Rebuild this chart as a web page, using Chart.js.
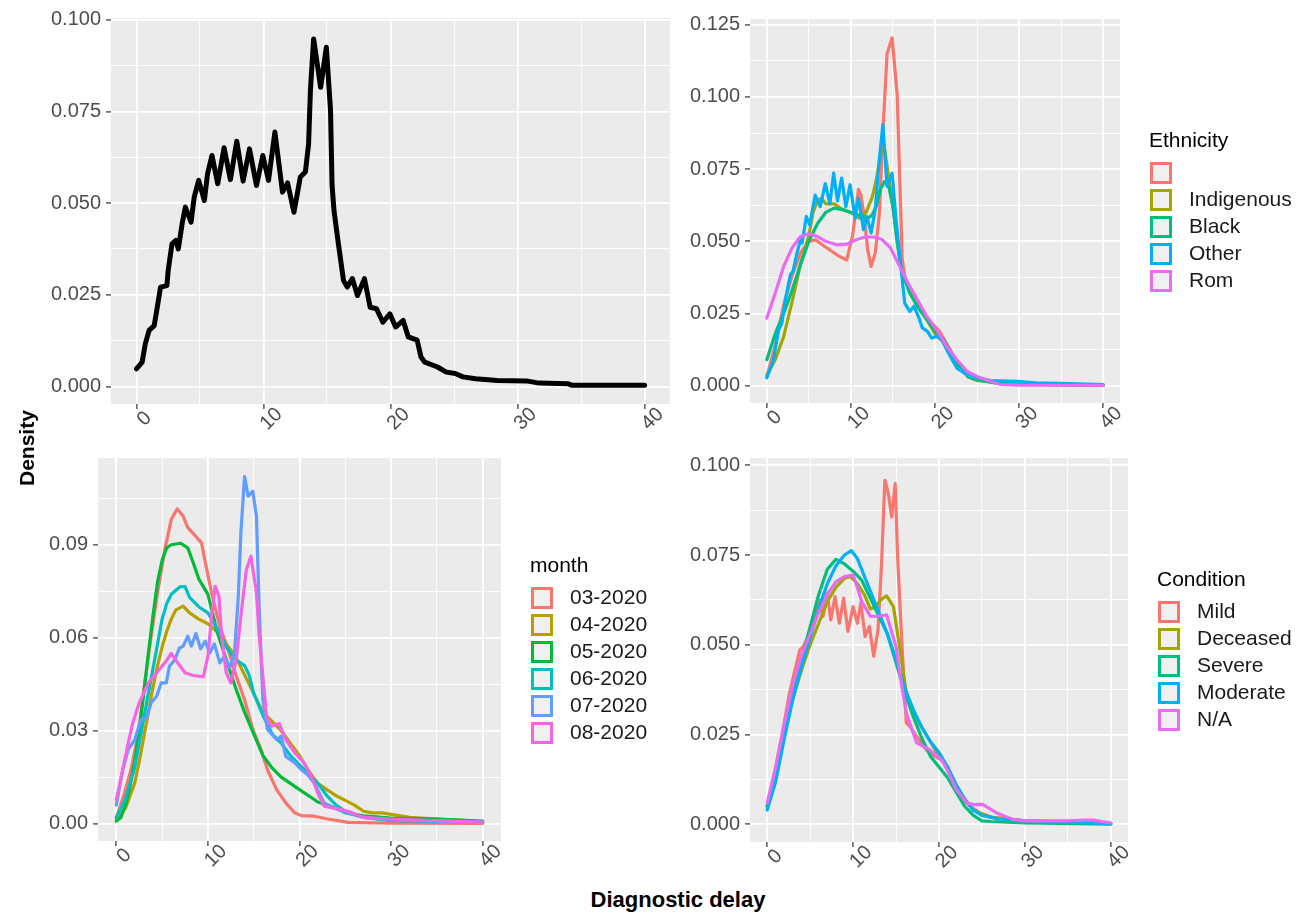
<!DOCTYPE html>
<html>
<head>
<meta charset="utf-8">
<script src="https://cdn.jsdelivr.net/npm/chart.js@4.4.1/dist/chart.umd.min.js"></script>
<style>
  body { margin: 0; background: #fff; width: 1296px; height: 916px; position: relative; overflow: hidden;
         font-family: 'Liberation Sans', Arial, sans-serif; }
  .panel { position: absolute; }
  .axis-title { position: absolute; font-weight: bold; color: #000; white-space: nowrap; transform: translate(-50%, -50%); }
  #yTitle { left: 27px; top: 448px; font-size: 21px; transform: translate(-50%, -50%) rotate(-90deg); }
  #xTitle { left: 678px; top: 900px; font-size: 22px; }
</style>
</head>
<body>
<div class="panel" style="left:31px;top:-2px;width:649px;height:446px"><canvas id="cAll"></canvas></div>
<div class="panel" style="left:670px;top:-1px;width:626px;height:444px"><canvas id="cEthnicity"></canvas></div>
<div class="panel" style="left:18px;top:438px;width:633px;height:443px"><canvas id="cMonth"></canvas></div>
<div class="panel" style="left:670px;top:438px;width:626px;height:444px"><canvas id="cCondition"></canvas></div>
<div class="axis-title" id="yTitle">Density</div>
<div class="axis-title" id="xTitle">Diagnostic delay</div>

<script>
// ---- data (x = diagnostic delay in days, y = density) ----
const xBreaks = [0, 10, 20, 30, 40];
const xLabels = ['0', '10', '20', '30', '40'];

// top-left: all cases
const allDelay = [[0,0.0048],[0.45,0.0066],[0.7,0.0116],[1.0,0.0153],[1.4,0.0166],[1.6,0.0207],[1.9,0.0271],[2.4,0.0275],[2.5,0.0316],[2.8,0.0389],[3.1,0.0398],[3.3,0.0375],[3.6,0.0444],[3.85,0.0489],[4.3,0.0448],[4.55,0.0516],[4.9,0.0562],[5.35,0.0507],[5.6,0.058],[5.95,0.063],[6.4,0.0553],[6.9,0.0651],[7.4,0.0564],[7.9,0.0669],[8.4,0.056],[8.9,0.0648],[9.45,0.0548],[9.95,0.063],[10.4,0.0562],[10.9,0.0694],[11.5,0.053],[11.9,0.0555],[12.4,0.0475],[12.9,0.0571],[13.3,0.0585],[13.55,0.066],[13.7,0.081],[13.95,0.0948],[14.5,0.0816],[14.95,0.0925],[15.28,0.0753],[15.4,0.055],[15.55,0.048],[15.9,0.0389],[16.3,0.0289],[16.6,0.0271],[17.0,0.0294],[17.4,0.0248],[17.95,0.0294],[18.4,0.0216],[18.9,0.0212],[19.4,0.0175],[19.95,0.0198],[20.4,0.0162],[21.0,0.018],[21.4,0.0135],[22.1,0.0126],[22.4,0.008],[22.7,0.0066],[23.7,0.0053],[24.4,0.0039],[25.1,0.0035],[25.7,0.0026],[26.7,0.0021],[28.4,0.0016],[30.7,0.0015],[31.7,0.0009],[34,0.0007],[34.3,0.0003],[40,0.0003]];
const allYBreaks = [0, 0.025, 0.05, 0.075, 0.1];
const allYLabels = ['0.000', '0.025', '0.050', '0.075', '0.100'];

// top-right: ethnicity
const ethnicityNames = ['', 'Indigenous', 'Black', 'Other', 'Rom'];
const ethBlank = [[0,0.003],[1,0.014],[2,0.028],[3,0.038],[4,0.046],[5,0.050],[5.8,0.0505],[6.5,0.049],[7.5,0.047],[8.5,0.045],[9.5,0.0435],[10.2,0.052],[10.9,0.068],[11.2,0.066],[11.6,0.058],[12,0.047],[12.4,0.0413],[12.9,0.046],[13.4,0.06],[13.7,0.082],[14.3,0.115],[14.9,0.1205],[15.5,0.101],[15.8,0.0725],[16.1,0.044],[16.5,0.036],[17.5,0.031],[18.5,0.026],[19.5,0.022],[20.5,0.019],[21.5,0.014],[22.5,0.009],[23.5,0.005],[24.5,0.003],[26,0.002],[28,0.0012],[30,0.0008],[35,0.0003],[40,0.0002]];
const ethIndigenous = [[0,0.0035],[1,0.009],[2,0.017],[3,0.029],[4,0.042],[5,0.052],[5.5,0.060],[6,0.064],[6.5,0.065],[7,0.063],[8,0.063],[9,0.061],[10,0.060],[11,0.058],[11.8,0.060],[12.5,0.065],[13,0.071],[13.6,0.081],[14,0.082],[14.5,0.072],[15,0.062],[15.5,0.050],[16,0.040],[17,0.033],[18,0.028],[19,0.023],[20,0.018],[21,0.015],[22,0.011],[23,0.006],[24,0.003],[25,0.0018],[27,0.0012],[30,0.0006],[40,0.0001]];
const ethBlack = [[0,0.009],[1,0.018],[2,0.025],[3,0.033],[4,0.042],[5,0.050],[6,0.056],[7,0.060],[8,0.0615],[9,0.061],[10,0.060],[11,0.059],[12,0.058],[12.5,0.059],[13,0.062],[13.5,0.068],[14,0.0707],[14.5,0.069],[15,0.062],[15.5,0.050],[16,0.040],[17,0.032],[18,0.027],[19,0.023],[20,0.019],[21,0.016],[22,0.011],[23,0.006],[24,0.003],[25,0.002],[27,0.001],[30,0.0006],[40,0.0001]];
const ethOther = [[0,0.0027],[0.8,0.009],[1.4,0.0194],[1.8,0.0217],[2.2,0.0298],[2.8,0.0384],[3.1,0.0396],[3.6,0.046],[4.0,0.0505],[4.2,0.0494],[4.7,0.0586],[5.1,0.0557],[5.75,0.066],[6.35,0.062],[6.95,0.070],[7.5,0.063],[7.95,0.0736],[8.4,0.064],[8.9,0.0719],[9.4,0.062],[9.9,0.0696],[10.5,0.058],[10.9,0.065],[11.5,0.054],[11.9,0.0586],[12.4,0.0529],[12.9,0.061],[13.3,0.076],[13.8,0.0904],[14.3,0.069],[14.9,0.0736],[15.4,0.0563],[15.9,0.0425],[16.4,0.0286],[17.0,0.0257],[17.5,0.0275],[18.1,0.0234],[18.5,0.020],[19.1,0.0188],[19.6,0.0165],[20.2,0.0171],[20.8,0.016],[21.6,0.0113],[22.6,0.0061],[23.8,0.0038],[25,0.0027],[26.6,0.0018],[29.8,0.0015],[32,0.001],[35,0.0008],[40,0.0004]];
const ethRom = [[0,0.0234],[1,0.032],[2,0.0413],[3,0.0477],[4,0.0517],[5,0.0526],[6,0.0517],[7,0.050],[8.3,0.0488],[9.5,0.049],[10.7,0.0506],[11.7,0.0515],[12.7,0.0515],[13.7,0.0506],[14.7,0.0477],[15.7,0.042],[16.7,0.036],[17.9,0.0298],[19.0,0.024],[20.2,0.0194],[21.4,0.0136],[22.6,0.009],[23.8,0.005],[25,0.0032],[26.2,0.002],[27.8,0.0004],[30,0.0002],[40,0.0001]];
const ethYBreaks = [0, 0.025, 0.05, 0.075, 0.1, 0.125];
const ethYLabels = ['0.000', '0.025', '0.050', '0.075', '0.100', '0.125'];

// bottom-left: month
const monthNames = ['03-2020', '04-2020', '05-2020', '06-2020', '07-2020', '08-2020'];
const month03 = [[0,0.0018],[0.9,0.0099],[1.6,0.0174],[2.4,0.0293],[3.1,0.0454],[3.8,0.0605],[4.5,0.0745],[5.3,0.0885],[6.0,0.0982],[6.65,0.1016],[7.3,0.0992],[7.8,0.0955],[8.5,0.0933],[9.3,0.0906],[9.8,0.0831],[10.4,0.0745],[11.3,0.0637],[12.2,0.0562],[13.1,0.0476],[14.0,0.040],[14.9,0.0304],[15.8,0.0239],[16.5,0.0174],[17.5,0.011],[18.5,0.0067],[19.5,0.0034],[20.2,0.0026],[21.6,0.0024],[23.1,0.0015],[25.3,0.0004],[30,0.0002],[40,0.0001]];
const month04 = [[0,0.001],[1,0.005],[2,0.013],[2.5,0.02],[3,0.028],[3.5,0.036],[4,0.044],[4.5,0.051],[5,0.057],[5.5,0.062],[6,0.066],[6.5,0.069],[7.3,0.0702],[8,0.068],[9,0.066],[10,0.0645],[11,0.062],[12,0.058],[13,0.054],[14,0.048],[15,0.042],[16,0.036],[17,0.033],[18,0.030],[19,0.026],[20,0.022],[21,0.017],[22,0.013],[23,0.011],[24,0.009],[25,0.0075],[26,0.006],[27,0.004],[28,0.0035],[29,0.0035],[30,0.003],[32,0.002],[35,0.0015],[38,0.001],[40,0.0005]];
const month05 = [[0,0.0008],[0.5,0.002],[1,0.006],[1.5,0.012],[2,0.02],[2.5,0.03],[3,0.042],[3.5,0.055],[4,0.067],[4.5,0.078],[5,0.085],[5.5,0.089],[6,0.090],[7,0.0905],[7.8,0.089],[8.3,0.085],[9,0.079],[10,0.074],[10.5,0.068],[11,0.062],[12,0.053],[13,0.044],[14,0.036],[15,0.029],[16,0.022],[17,0.018],[18,0.015],[19,0.013],[20,0.011],[21,0.009],[22,0.007],[23,0.006],[24,0.005],[25,0.0035],[27,0.0025],[30,0.0018],[35,0.0015],[40,0.0008]];
const month06 = [[0,0.002],[1,0.008],[2,0.018],[3,0.034],[4,0.050],[4.5,0.058],[5,0.066],[5.5,0.071],[6,0.074],[7,0.0765],[7.5,0.0765],[8,0.073],[9,0.070],[10,0.068],[11,0.063],[12,0.057],[13,0.053],[13.5,0.052],[14,0.051],[14.5,0.048],[15,0.042],[16,0.035],[17,0.029],[18,0.026],[19,0.022],[20,0.019],[21,0.016],[22,0.013],[23,0.009],[24,0.006],[25,0.004],[27,0.002],[30,0.001],[40,0.0005]];
const month07 = [[0,0.006],[0.7,0.0174],[1.3,0.024],[2.0,0.027],[2.7,0.0336],[3.3,0.034],[3.8,0.039],[4.4,0.0411],[4.9,0.0454],[5.45,0.0454],[5.8,0.0508],[6.4,0.053],[6.9,0.0567],[7.3,0.0573],[7.8,0.0605],[8.2,0.0573],[8.7,0.0614],[9.2,0.0564],[9.7,0.0589],[10.2,0.0551],[10.7,0.058],[11.3,0.0519],[11.8,0.054],[12.4,0.0503],[12.9,0.0551],[13.3,0.0723],[13.6,0.0939],[14.0,0.112],[14.4,0.1057],[14.9,0.1073],[15.3,0.0992],[15.6,0.0691],[16.0,0.040],[16.5,0.0304],[17.5,0.0271],[18.0,0.0282],[18.5,0.0217],[19.5,0.0196],[20.2,0.0174],[20.9,0.0158],[21.6,0.0131],[22.7,0.0067],[23.8,0.005],[25.3,0.0034],[27,0.002],[30,0.0012],[35,0.0008],[40,0.0005]];
const month08 = [[0,0.0078],[0.7,0.0174],[1.3,0.026],[1.8,0.0325],[2.5,0.039],[3.5,0.0454],[4.4,0.0487],[5.3,0.0519],[6.0,0.0549],[6.7,0.0519],[7.5,0.0487],[8.4,0.0478],[9.5,0.0474],[10.0,0.054],[10.4,0.067],[10.8,0.0766],[11.2,0.0734],[11.5,0.0605],[12.0,0.0487],[12.5,0.0454],[13.1,0.053],[13.6,0.067],[14.2,0.082],[14.7,0.0863],[15.3,0.0745],[15.6,0.0605],[16.0,0.0476],[16.4,0.0347],[16.9,0.0314],[17.8,0.0323],[18.5,0.0271],[19.5,0.0228],[20.5,0.0196],[21.3,0.0153],[22.0,0.0099],[22.7,0.0056],[23.8,0.005],[25.3,0.004],[27,0.002],[30,0.0015],[35,0.001],[40,0.0004]];
const monthYBreaks = [0, 0.03, 0.06, 0.09];
const monthYLabels = ['0.00', '0.03', '0.06', '0.09'];

// bottom-right: condition
const conditionNames = ['Mild', 'Deceased', 'Severe', 'Moderate', 'N/A'];
const condMild = [[0,0.0051],[0.7,0.0125],[1.7,0.0245],[2.6,0.0366],[3.8,0.0486],[4.2,0.0495],[4.8,0.0523],[5.5,0.0579],[6.1,0.0625],[6.5,0.0579],[7.0,0.0644],[7.4,0.0569],[7.9,0.0634],[8.4,0.056],[8.9,0.063],[9.4,0.0537],[10.0,0.0606],[10.5,0.056],[10.9,0.0616],[11.4,0.0523],[11.9,0.0551],[12.4,0.0468],[12.9,0.0542],[13.3,0.0718],[13.7,0.0958],[14.1,0.0921],[14.5,0.0856],[14.9,0.0949],[15.2,0.0736],[15.7,0.0495],[16.2,0.0282],[16.6,0.0273],[17.4,0.0245],[18.5,0.0208],[19.5,0.019],[20.5,0.0176],[21.2,0.0144],[22.4,0.0088],[23.6,0.0051],[24.7,0.0032],[26.3,0.0019],[30,0.001],[35,0.0007],[38,0.0005],[40,0.0002]];
const condDeceased = [[0,0.005],[1,0.013],[2,0.025],[3,0.035],[4,0.043],[5,0.050],[6,0.056],[7,0.062],[8,0.066],[9,0.0685],[9.7,0.069],[10.5,0.067],[11.3,0.064],[12,0.060],[12.6,0.0605],[13.2,0.0625],[13.9,0.0636],[14.7,0.0606],[15.4,0.0495],[16.2,0.0366],[17,0.031],[18,0.027],[19,0.023],[20,0.019],[21,0.016],[22,0.011],[23,0.007],[24,0.004],[25,0.003],[26,0.002],[30,0.001],[40,0.0002]];
const condSevere = [[0,0.005],[1,0.014],[2,0.026],[3,0.037],[4,0.046],[5,0.055],[6,0.064],[7,0.071],[8,0.0738],[9,0.0725],[10,0.0705],[11,0.068],[12,0.063],[13,0.058],[14,0.053],[15,0.045],[16,0.037],[17,0.030],[18,0.024],[19,0.019],[20,0.016],[21,0.013],[22,0.009],[23,0.005],[24,0.0025],[25,0.001],[26,0.0008],[30,0.0004],[40,0.0001]];
const condModerate = [[0,0.004],[1,0.012],[2,0.024],[3,0.035],[4,0.044],[5,0.052],[6,0.060],[7,0.067],[8,0.072],[9,0.075],[9.8,0.0762],[10.5,0.074],[11,0.071],[12,0.065],[13,0.059],[14,0.053],[15,0.046],[16,0.038],[17,0.032],[18,0.027],[19,0.023],[20,0.020],[21,0.016],[22,0.011],[23,0.007],[24,0.004],[25,0.0025],[27,0.0015],[30,0.001],[40,0.0002]];
const condNA = [[0,0.006],[1,0.016],[2,0.028],[3,0.039],[4,0.047],[5,0.053],[6,0.059],[7,0.064],[8,0.0675],[9,0.069],[10,0.0694],[10.5,0.066],[11,0.062],[12,0.058],[12.7,0.0579],[13.9,0.0583],[15,0.0495],[15.5,0.041],[16.2,0.031],[17.4,0.0227],[18.9,0.0208],[20.3,0.018],[21,0.015],[22,0.0097],[23.2,0.006],[24,0.0055],[25.1,0.0056],[26.7,0.0032],[28.6,0.0014],[30,0.001],[35,0.001],[37,0.0012],[38,0.0012],[40,0.0004]];
const condYBreaks = [0, 0.025, 0.05, 0.075, 0.1];
const condYLabels = ['0.000', '0.025', '0.050', '0.075', '0.100'];

// ---- styling ----
Chart.defaults.font.family = "'Liberation Sans', Arial, sans-serif";
Chart.defaults.color = '#4D4D4D';
const hue5 = ['#F8766D', '#A3A500', '#00BF7D', '#00B0F6', '#E76BF3'];
const hue6 = ['#F8766D', '#B79F00', '#00BA38', '#00BFC4', '#619CFF', '#F564E3'];

const near = (a, b) => Math.abs(a - b) < 1e-9;

// grey panel background (ggplot theme_gray)
const panelBg = {
  id: 'panelBg',
  beforeDraw(chart) {
    const { ctx, chartArea: a } = chart;
    ctx.save();
    ctx.fillStyle = '#EBEBEB';
    ctx.fillRect(a.left, a.top, a.right - a.left, a.bottom - a.top);
    ctx.restore();
  }
};

// 45 degree x labels centred under each break, like ggplot's angle = 45
const slantedX = {
  id: 'slantedX',
  afterDraw(chart) {
    const { ctx, chartArea, scales: { x } } = chart;
    ctx.save();
    ctx.font = "20px 'Liberation Sans', Arial, sans-serif";
    ctx.fillStyle = '#4D4D4D';
    ctx.textAlign = 'center';
    ctx.textBaseline = 'middle';
    xBreaks.forEach((v, i) => {
      ctx.save();
      ctx.translate(x.getPixelForValue(v) + 8, chartArea.bottom + 15);
      ctx.rotate(-Math.PI / 4);
      ctx.fillText(xLabels[i], 0, 0);
      ctx.restore();
    });
    ctx.restore();
  }
};

// legend with grey key boxes and coloured outlines
const ggLegend = {
  id: 'ggLegend',
  afterDraw(chart, args, opts) {
    if (!opts.title) return;
    const { ctx, chartArea } = chart;
    const sets = chart.data.datasets;
    const pitch = 27, box = 22;
    const midY = (chartArea.top + chartArea.bottom) / 2;
    const titleY = midY - ((sets.length - 1) * pitch + 32) / 2;
    const x0 = chartArea.right + 30;
    ctx.save();
    ctx.font = "21px 'Liberation Sans', Arial, sans-serif";
    ctx.textBaseline = 'middle';
    ctx.fillStyle = '#000';
    ctx.fillText(opts.title, x0 - 1, titleY);
    sets.forEach((ds, i) => {
      const cy = titleY + 32 + i * pitch;
      ctx.fillStyle = '#F0F0F0';
      ctx.fillRect(x0, cy - box / 2, box, box);
      ctx.strokeStyle = ds.borderColor;
      ctx.lineWidth = 3;
      ctx.strokeRect(x0 + 1.5, cy - box / 2 + 1.5, box - 3, box - 3);
      ctx.fillStyle = '#1A1A1A';
      ctx.fillText(ds.label, x0 + 39, cy);
    });
    ctx.restore();
  }
};

function makePanel(canvasId, series, names, colors, yBreaks, yLabels, yMin, yMax, legendTitle, lineWidth, padRight) {
  const xMinor = [5, 15, 25, 35];
  const yStep = yBreaks[1] - yBreaks[0];
  const yMinor = yBreaks.map(v => v + yStep / 2).filter(v => v < yMax);
  const isXMajor = v => xBreaks.some(b => near(b, v));
  const isYMajor = v => yBreaks.some(b => near(b, v));

  return new Chart(document.getElementById(canvasId), {
    type: 'line',
    data: {
      datasets: series.map((pts, i) => ({
        label: names[i],
        data: pts.map(p => ({ x: p[0], y: p[1] })),
        borderColor: colors[i],
        borderWidth: lineWidth,
        pointRadius: 0,
        tension: 0,
        fill: false,
        borderJoinStyle: 'round',
        borderCapStyle: 'round',
        order: series.length - i   // later groups drawn on top, as ggplot does
      }))
    },
    options: {
      responsive: true,
      maintainAspectRatio: false,
      animation: false,
      layout: { padding: { top: 20, right: padRight, left: 0, bottom: 0 } },
      plugins: {
        legend: { display: false },
        tooltip: { enabled: false },
        ggLegend: { title: legendTitle }
      },
      scales: {
        x: {
          type: 'linear',
          min: -2,
          max: 42,
          afterBuildTicks: axis => { axis.ticks = xBreaks.concat(xMinor).sort((a, b) => a - b).map(v => ({ value: v })); },
          afterFit: axis => { axis.height = 40; },
          ticks: { display: false },
          border: { display: false },
          grid: {
            color: '#FFFFFF',
            lineWidth: c => isXMajor(c.tick.value) ? 1.8 : 0.9,
            tickColor: c => isXMajor(c.tick.value) ? '#333333' : 'rgba(0,0,0,0)',
            tickWidth: 1.2,
            tickLength: 5
          }
        },
        y: {
          type: 'linear',
          min: yMin,
          max: yMax,
          afterBuildTicks: axis => { axis.ticks = yBreaks.concat(yMinor).sort((a, b) => a - b).map(v => ({ value: v })); },
          afterFit: axis => { axis.width = 80; },
          ticks: {
            autoSkip: false,
            padding: 5,
            color: '#4D4D4D',
            font: { size: 20 },
            callback: v => {
              const k = yBreaks.findIndex(b => near(b, v));
              return k >= 0 ? yLabels[k] : '';
            }
          },
          border: { display: false },
          grid: {
            color: '#FFFFFF',
            lineWidth: c => isYMajor(c.tick.value) ? 1.8 : 0.9,
            tickColor: c => isYMajor(c.tick.value) ? '#333333' : 'rgba(0,0,0,0)',
            tickWidth: 1.2,
            tickLength: 5
          }
        }
      }
    },
    plugins: [panelBg, slantedX, ggLegend]
  });
}

makePanel('cAll', [allDelay], ['all'], ['#000000'],
  allYBreaks, allYLabels, -0.0048, 0.1005, null, 5, 10);

makePanel('cEthnicity', [ethBlank, ethIndigenous, ethBlack, ethOther, ethRom], ethnicityNames, hue5,
  ethYBreaks, ethYLabels, -0.006, 0.127, 'Ethnicity', 3.2, 176);

makePanel('cMonth', [month03, month04, month05, month06, month07, month08], monthNames, hue6,
  monthYBreaks, monthYLabels, -0.0056, 0.118, 'month', 3.2, 150);

makePanel('cCondition', [condMild, condDeceased, condSevere, condModerate, condNA], conditionNames, hue5,
  condYBreaks, condYLabels, -0.0049, 0.102, 'Condition', 3.2, 168);
</script>
</body>
</html>
